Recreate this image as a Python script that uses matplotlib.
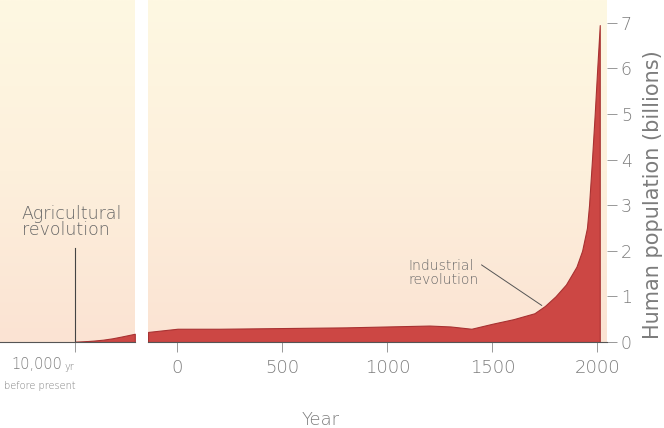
import matplotlib.pyplot as plt
import numpy as np
from matplotlib.colors import LinearSegmentedColormap

# early population (year CE, billions)
early_years = [-8000, -7500, -7000, -6500, -6000, -5500, -4800]
early_pop = [0.005, 0.015, 0.03, 0.05, 0.08, 0.12, 0.18]

# population since year 0 (billions)
years = [-140, 0, 200, 400, 600, 800, 1000, 1200, 1300, 1400, 1500,
         1600, 1700, 1750, 1800, 1850, 1900, 1927, 1950, 1960, 1974,
         1987, 1999, 2011]
pop = [0.22, 0.29, 0.29, 0.30, 0.31, 0.32, 0.34, 0.36, 0.34, 0.29, 0.40,
       0.50, 0.63, 0.79, 1.0, 1.26, 1.65, 2.0, 2.5, 3.0, 4.0,
       5.0, 6.0, 6.95]

xticks = [0, 500, 1000, 1500, 2000]
yticks = [0, 1, 2, 3, 4, 5, 6, 7]

fill_c = "#cc4744"
edge_c = "#a83232"
text_c = "#7c7c7c"
bg = LinearSegmentedColormap.from_list("bg", ["#fbe3d3", "#fdf0dc", "#fef8e2"])
grad = np.linspace(0, 1, 256).reshape(-1, 1)

plt.rcParams["font.weight"] = "light"
fig = plt.figure(figsize=(6.64, 4.28), dpi=100)

ax1 = fig.add_axes([0.0, 0.201, 0.203, 0.799])
ax2 = fig.add_axes([0.223, 0.201, 0.691, 0.799])

ymax = 7.5
for ax, xl in ((ax1, (-12000, -4800)), (ax2, (-140, 2045))):
    ax.imshow(grad, extent=[xl[0], xl[1], 0, ymax], origin="lower",
              cmap=bg, aspect="auto", zorder=0)
    ax.set_xlim(*xl)
    ax.set_ylim(0, ymax)
    for s in ("top", "left", "right"):
        ax.spines[s].set_visible(False)
    ax.spines["bottom"].set_color("#555555")
    ax.spines["bottom"].set_linewidth(0.8)
    ax.tick_params(axis="x", direction="out", length=7, width=0.6,
                   color="#888888", labelcolor=text_c, labelsize=13, pad=5)

ax1.fill_between(early_years, early_pop, color=fill_c, edgecolor=edge_c,
                 linewidth=0.8, zorder=2)
ax2.fill_between(years, pop, color=fill_c, edgecolor=edge_c,
                 linewidth=0.8, zorder=2)

ax1.set_yticks([])
ax1.set_xticks([-8000], labels=[""])
ax1.text(-8650, -0.5, "10,000", ha="right", va="center", color=text_c,
         fontsize=10.5)
ax1.text(-8550, -0.55, "yr", ha="left", va="center", color=text_c,
         fontsize=7)
ax1.text(-9870, -0.97, "before present", ha="center", va="center",
         color=text_c, fontsize=7)
ax1.plot([-8000, -8000], [0, 2.05], color="#444444", lw=0.8, zorder=3)
ax1.text(-10850, 2.25, "Agricultural\nrevolution", ha="left", va="bottom",
         color="#666666", fontsize=12.5, linespacing=0.9)

ax2.set_xticks(xticks, labels=[str(t) for t in xticks])
ax2.yaxis.tick_right()
ax2.yaxis.set_label_position("right")
ax2.set_yticks(yticks, labels=[str(t) for t in yticks])
ax2.tick_params(axis="y", direction="out", length=7, width=0.6,
                color="#888888", labelcolor=text_c, labelsize=12.5, pad=3)
ax2.set_ylabel("Human population (billions)", color=text_c, fontsize=15)
ax2.yaxis.set_label_coords(1.078, 0.43)
fig.text(321 / 664, 1 - 420 / 428, "Year", ha="center", va="center",
         color=text_c, fontsize=13)

ax2.annotate("Industrial\nrevolution", xy=(1735, 0.8), xytext=(1100, 1.2),
             ha="left", va="bottom", color="#666666", fontsize=10,
             linespacing=1.05,
             arrowprops=dict(arrowstyle="-", color="#555555", lw=0.7,
                             shrinkA=0, shrinkB=0, relpos=(1.0, 0.85)))

fig.savefig("out.png", dpi=100)
